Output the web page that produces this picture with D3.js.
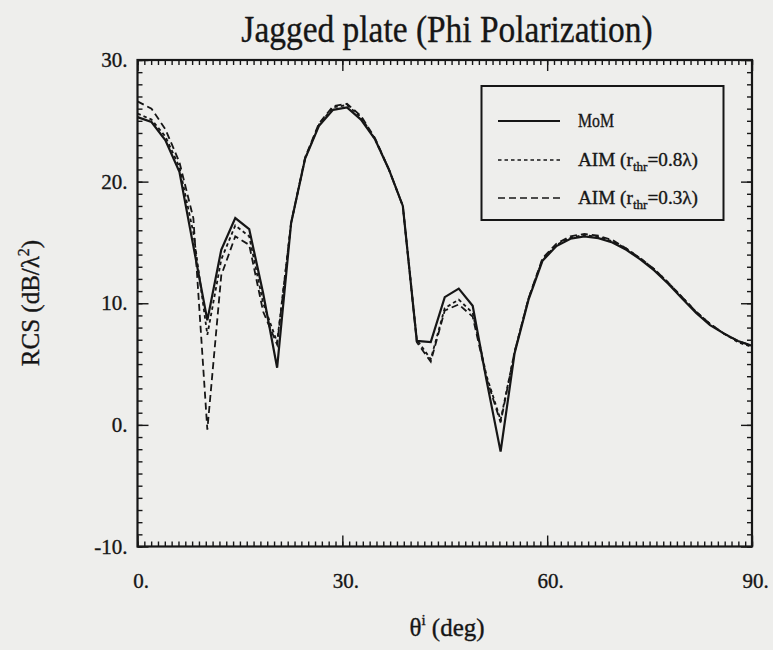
<!DOCTYPE html>
<html>
<head>
<meta charset="utf-8">
<script src="https://cdn.jsdelivr.net/npm/d3@7"></script>
<style>
  body { margin: 0; background: #eeeeec; }
  svg { display: block; }
  text { font-family: "Liberation Serif", "Times New Roman", serif; fill: #161616; stroke: #161616; stroke-width: 0.35; }
</style>
</head>
<body>
<script>
// incidence angles (deg) and RCS values (dB/lambda^2)
var theta = [0, 2.05, 4.09, 6.14, 8.18, 10.23, 12.27, 14.32, 16.36, 18.41, 20.45, 22.5, 24.55, 26.59,
  28.64, 30.68, 32.73, 34.77, 36.82, 38.86, 40.91, 42.95, 45, 47.05, 49.09, 51.14, 53.18, 55.23,
  57.27, 59.32, 61.36, 63.41, 65.45, 67.5, 69.55, 71.59, 73.64, 75.68, 77.73, 79.77, 81.82, 83.86,
  85.91, 87.95, 90];

var mom = [25.3, 24.9, 23.4, 20.8, 14.7, 8.6, 14.4, 17.0, 16.1, 10.8, 4.7, 16.6, 21.9, 24.6, 25.9,
  26.1, 25.1, 23.5, 21.0, 18.0, 6.9, 6.8, 10.5, 11.2, 9.8, 3.6, -2.2, 5.9, 10.3, 13.5, 14.7, 15.3,
  15.5, 15.35, 15.0, 14.4, 13.6, 12.7, 11.6, 10.4, 9.2, 8.2, 7.5, 6.9, 6.5];

var aim08 = [25.6, 25.1, 23.7, 21.2, 15.8, 7.4, 13.6, 16.4, 15.5, 10.0, 6.8, 16.6, 21.9, 24.7, 26.1,
  26.3, 25.3, 23.5, 21.0, 18.0, 7.0, 5.4, 9.6, 10.3, 9.2, 4.0, 0.4, 6.0, 10.4, 13.6, 14.8, 15.4,
  15.6, 15.45, 15.1, 14.5, 13.7, 12.8, 11.7, 10.5, 9.3, 8.3, 7.5, 6.8, 6.4];

var aim03 = [26.6, 26.0, 24.3, 21.6, 17.0, -0.4, 12.3, 15.5, 14.8, 9.3, 6.6, 16.6, 22.0, 24.8, 26.2,
  26.4, 25.4, 23.6, 21.0, 18.0, 6.8, 5.2, 9.4, 9.9, 8.9, 3.8, 0.2, 6.0, 10.4, 13.7, 14.9, 15.5,
  15.7, 15.55, 15.2, 14.5, 13.7, 12.8, 11.7, 10.5, 9.3, 8.3, 7.5, 6.9, 6.5];

var xMajor = [0, 30, 60, 90];
var yMajor = [-10, 0, 10, 20, 30];

var seriesNames = ["MoM", "AIM (r", "AIM (r"];
var seriesSubs = ["", "thr", "thr"];
var seriesTails = ["", "=0.8\u03bb)", "=0.3\u03bb)"];

var W = 773, H = 650;
var mLeft = 137.5, mRight = 752, mTop = 60, mBottom = 546.5;
var ink = "#161616";

var svg = d3.select("body").append("svg")
  .attr("width", W).attr("height", H);

svg.append("rect").attr("width", W).attr("height", H).attr("fill", "#eeeeec");

var x = d3.scaleLinear().domain([0, 90]).range([mLeft, mRight]);
var y = d3.scaleLinear().domain([-10, 30]).range([mBottom, mTop]);

// ticks on all four sides, pointing inward
var minorX = d3.range(0, 91, 1), minorY = d3.range(-10, 31, 1);
var sides = [
  { ax: () => d3.axisBottom(x), pos: "translate(0," + mBottom + ")", minor: minorX, major: xMajor },
  { ax: () => d3.axisTop(x), pos: "translate(0," + mTop + ")", minor: minorX, major: xMajor },
  { ax: () => d3.axisLeft(y), pos: "translate(" + mLeft + ",0)", minor: minorY, major: yMajor },
  { ax: () => d3.axisRight(y), pos: "translate(" + mRight + ",0)", minor: minorY, major: yMajor }
];
sides.forEach(function(s) {
  var gMin = svg.append("g").attr("transform", s.pos)
    .call(s.ax().tickValues(s.minor).tickSize(-5).tickFormat(""));
  var gMaj = svg.append("g").attr("transform", s.pos)
    .call(s.ax().tickValues(s.major).tickSize(-11).tickFormat(""));
  [gMin, gMaj].forEach(function(g) {
    g.select(".domain").remove();
    g.selectAll("line").attr("stroke", ink).attr("stroke-width", 1.4);
  });
});

// tick labels
svg.append("g").attr("transform", "translate(0," + mBottom + ")")
  .call(d3.axisBottom(x).tickValues(xMajor).tickSize(0).tickPadding(27).tickFormat(d => d + "."))
  .call(g => g.select(".domain").remove())
  .selectAll("text").attr("font-size", 21).attr("dx", 3).attr("fill", ink)
  .style("font-family", "'Liberation Serif', serif");

svg.append("g").attr("transform", "translate(" + mLeft + ",0)")
  .call(d3.axisLeft(y).tickValues(yMajor).tickSize(0).tickPadding(10).tickFormat(d => d + "."))
  .call(g => g.select(".domain").remove())
  .selectAll("text").attr("font-size", 21).attr("fill", ink)
  .style("font-family", "'Liberation Serif', serif");

// frame
svg.append("rect")
  .attr("x", mLeft).attr("y", mTop)
  .attr("width", mRight - mLeft).attr("height", mBottom - mTop)
  .attr("fill", "none").attr("stroke", ink).attr("stroke-width", 2.2);

// curves
var line = d3.line().x((d, i) => x(theta[i])).y(d => y(d));
var styles = [
  { data: mom, dash: null, w: 2.2 },
  { data: aim08, dash: "3.5,3", w: 1.8 },
  { data: aim03, dash: "7,4", w: 1.8 }
];
styles.forEach(function(s) {
  svg.append("path").datum(s.data)
    .attr("d", line)
    .attr("fill", "none")
    .attr("stroke", ink)
    .attr("stroke-width", s.w)
    .attr("stroke-linejoin", "miter")
    .attr("stroke-dasharray", s.dash);
});

// legend
svg.append("rect")
  .attr("x", 481.5).attr("y", 86).attr("width", 242).attr("height", 134)
  .attr("fill", "#eeeeec").attr("stroke", ink).attr("stroke-width", 2);

var legY = [121, 160, 198];
var legLen = [36, 120, 120];
styles.forEach(function(s, i) {
  svg.append("line")
    .attr("x1", 498).attr("x2", 560).attr("y1", legY[i]).attr("y2", legY[i])
    .attr("stroke", ink).attr("stroke-width", s.w - 0.4)
    .attr("stroke-dasharray", s.dash);
  var t = svg.append("text")
    .attr("x", 578).attr("y", legY[i] + 6)
    .attr("font-size", 19)
    .attr("textLength", legLen[i])
    .attr("lengthAdjust", "spacingAndGlyphs");
  t.append("tspan").text(seriesNames[i]);
  if (seriesSubs[i]) {
    t.append("tspan").attr("font-size", 13).attr("dy", 5).text(seriesSubs[i]);
    t.append("tspan").attr("dy", -5).text(seriesTails[i]);
  }
});

// title and axis titles
svg.append("text")
  .attr("transform", "translate(447,42) scale(0.88,1)")
  .attr("text-anchor", "middle").attr("font-size", 38)
  .text("Jagged plate (Phi Polarization)");

var yl = svg.append("text")
  .attr("transform", "translate(39,303) rotate(-90)")
  .attr("text-anchor", "middle").attr("font-size", 25);
yl.append("tspan").text("RCS (dB/\u03bb");
yl.append("tspan").attr("font-size", 16).attr("dy", -10).text("2");
yl.append("tspan").attr("dy", 10).text(")");

var xl = svg.append("text")
  .attr("transform", "translate(447,636)")
  .attr("text-anchor", "middle").attr("font-size", 25);
xl.append("tspan").text("\u03b8");
xl.append("tspan").attr("font-size", 15).attr("dy", -11).text("i");
xl.append("tspan").attr("dy", 11).text(" (deg)");
</script>
</body>
</html>
